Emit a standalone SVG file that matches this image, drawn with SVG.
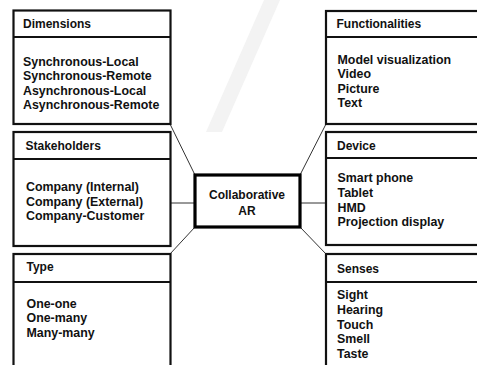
<svg xmlns="http://www.w3.org/2000/svg" width="477" height="365" viewBox="0 0 477 365">
<style>
.box{fill:#fff;stroke:#111;stroke-width:2.2}
.div{stroke:#111;stroke-width:2.2}
.core{fill:#fff;stroke:#000;stroke-width:3.2}
.t{font-family:"Liberation Sans",Arial,sans-serif;font-weight:bold;font-size:12px;fill:#111}
.b{font-size:12.4px}
.c{stroke:#333;stroke-width:1;fill:none}
.wm{fill:#f3f3f3}
</style>
<rect width="477" height="365" fill="#fff"/>
<g id="watermark">
<polygon class="wm" points="264,0 280,0 222,132 206,132"/>
</g>
<g id="connectors">
<line class="c" x1="170" y1="124" x2="195" y2="175"/>
<line class="c" x1="170" y1="203" x2="195" y2="203"/>
<line class="c" x1="170" y1="254" x2="195" y2="227"/>
<line class="c" x1="300" y1="175" x2="326" y2="124"/>
<line class="c" x1="300" y1="203" x2="326" y2="203"/>
<line class="c" x1="300" y1="227" x2="326" y2="254"/>
</g>
<g id="dimensions">
<rect class="box" x="13.5" y="10.5" width="157" height="113.5"/>
<line class="div" x1="13.5" y1="37" x2="170.5" y2="37"/>
<text class="t" x="23" y="28">Dimensions</text>
<text class="t b" x="23" y="65.5">Synchronous-Local</text>
<text class="t b" x="23" y="80">Synchronous-Remote</text>
<text class="t b" x="23" y="94.5">Asynchronous-Local</text>
<text class="t b" x="23" y="109">Asynchronous-Remote</text>
</g>
<g id="stakeholders">
<rect class="box" x="13.5" y="132" width="157" height="114"/>
<line class="div" x1="13.5" y1="159" x2="170.5" y2="159"/>
<text class="t" x="25.5" y="150">Stakeholders</text>
<text class="t b" x="26" y="191">Company (Internal)</text>
<text class="t b" x="26" y="205.5">Company (External)</text>
<text class="t b" x="26" y="220">Company-Customer</text>
</g>
<g id="type">
<rect class="box" x="13.5" y="254" width="157" height="120"/>
<line class="div" x1="13.5" y1="282" x2="170.5" y2="282"/>
<text class="t" x="26.5" y="271">Type</text>
<text class="t b" x="26.5" y="307.5">One-one</text>
<text class="t b" x="26.5" y="322">One-many</text>
<text class="t b" x="26.5" y="336.5">Many-many</text>
</g>
<g id="functionalities">
<rect class="box" x="326" y="11" width="170" height="113"/>
<line class="div" x1="326" y1="37" x2="496" y2="37"/>
<text class="t" x="336.5" y="28">Functionalities</text>
<text class="t b" x="337.5" y="63.5">Model visualization</text>
<text class="t b" x="337.5" y="78">Video</text>
<text class="t b" x="337.5" y="92.5">Picture</text>
<text class="t b" x="337.5" y="107">Text</text>
</g>
<g id="device">
<rect class="box" x="326" y="132" width="170" height="113"/>
<line class="div" x1="326" y1="158" x2="496" y2="158"/>
<text class="t" x="337" y="150">Device</text>
<text class="t b" x="337.5" y="182">Smart phone</text>
<text class="t b" x="337.5" y="197">Tablet</text>
<text class="t b" x="337.5" y="211.5">HMD</text>
<text class="t b" x="337.5" y="226">Projection display</text>
</g>
<g id="senses">
<rect class="box" x="326" y="254" width="170" height="120"/>
<line class="div" x1="326" y1="282" x2="496" y2="282"/>
<text class="t" x="337" y="273">Senses</text>
<text class="t b" x="337" y="299">Sight</text>
<text class="t b" x="337" y="314">Hearing</text>
<text class="t b" x="337" y="328.5">Touch</text>
<text class="t b" x="337" y="343">Smell</text>
<text class="t b" x="337" y="358">Taste</text>
</g>
<g id="collaborative-ar">
<rect class="core" x="195" y="175" width="105" height="52"/>
<text class="t" x="247" y="199" text-anchor="middle">Collaborative</text>
<text class="t" x="247" y="215" text-anchor="middle">AR</text>
</g>
</svg>
